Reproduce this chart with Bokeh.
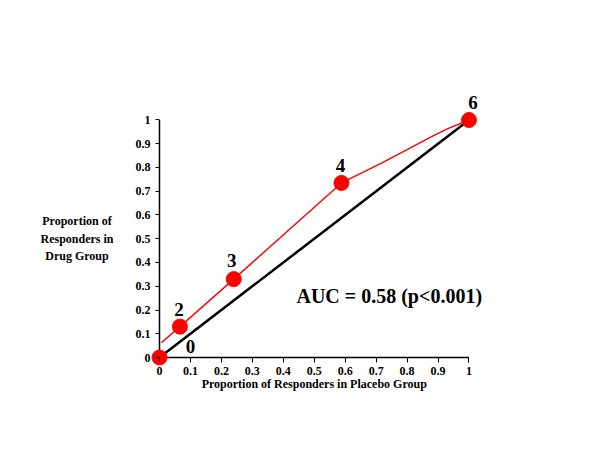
from bokeh.plotting import figure
from bokeh.models import Range1d, FixedTicker, ColumnDataSource, Label
from bokeh.core.properties import value
from bokeh.embed import file_html
from bokeh.resources import INLINE

# ---- data ----
pt_x = [0.0, 0.066, 0.24, 0.588, 1.0]
pt_y = [0.0, 0.13, 0.33, 0.735, 1.0]
pt_labels = ["0", "2", "3", "4", "6"]

curve_x = [0.006, 0.066, 0.24, 0.588, 0.714, 0.80, 0.876, 0.93, 1.0]
curve_y = [0.062, 0.13, 0.33, 0.735, 0.816, 0.875, 0.928, 0.963, 1.0]

ref_x = [0.0, 1.0]
ref_y = [0.0, 1.0]

ticks = [0, 0.1, 0.2, 0.3, 0.4, 0.5, 0.6, 0.7, 0.8, 0.9, 1]
tick_labels = ["0", "0.1", "0.2", "0.3", "0.4", "0.5", "0.6", "0.7", "0.8", "0.9", "1"]

x_title = "Proportion of Responders in Placebo Group"
y_title = "Proportion of\nResponders in\nDrug Group"
auc_text = "AUC = 0.58 (p<0.001)"

# label offsets in screen pixels
lab_dx = [31, -1, -2, -1, 4]
lab_dy = [-11, -17, -19, -17, -17]

FONT = "Liberation Serif"

p = figure(width=584, height=434,
           x_range=Range1d(-0.4168, 1.3409), y_range=Range1d(-0.2063, 1.2926),
           min_border_left=30, min_border_right=10,
           min_border_top=50, min_border_bottom=28,
           output_backend="svg", toolbar_location=None, tools="")
p.outline_line_color = None
p.xgrid.visible = False
p.ygrid.visible = False
p.background_fill_color = "white"
p.border_fill_color = "white"

overrides = {t: l for t, l in zip(ticks, tick_labels)}
for ax in (p.xaxis[0], p.yaxis[0]):
    ax.fixed_location = 0
    ax.ticker = FixedTicker(ticks=ticks, minor_ticks=[])
    ax.major_label_overrides = overrides
    ax.axis_line_color = None
    ax.major_tick_line_color = "black"
    ax.major_tick_line_width = 1
    ax.major_tick_in = 0
    ax.minor_tick_line_color = None
    ax.major_label_text_font = FONT
    ax.major_label_text_font_style = "bold"
    ax.major_label_text_font_size = "12px"
    ax.major_label_text_color = "black"

p.xaxis.major_tick_out = 5
p.xaxis.major_label_standoff = 4
p.yaxis.major_tick_out = 4
p.yaxis.major_label_standoff = 5

# axis lines from 0 to 1
p.line(x=[ticks[0], ticks[-1]], y=[ticks[0], ticks[0]], line_color="black", line_width=1.5)
p.line(x=[ticks[0], ticks[0]], y=[ticks[0], ticks[-1]], line_color="black", line_width=1.5)

# diagonal reference
p.line(x=ref_x, y=ref_y, line_color="black", line_width=2.5)

# red curve
p.line(x=curve_x, y=curve_y, line_color="#ff0000", line_width=1.4)

src = ColumnDataSource(dict(x=pt_x, y=pt_y, t=pt_labels, dx=lab_dx, dy=lab_dy))
p.scatter(x="x", y="y", source=src, size=15, fill_color="#ff0000", line_color="#ff0000")

p.text(x="x", y="y", text="t", x_offset="dx", y_offset="dy", source=src,
       text_font=value(FONT), text_font_style="bold", text_font_size="19px",
       text_align="center", text_baseline="middle", text_color="black")

p.add_layout(Label(x=-0.2666, y=0.5, text=y_title, text_font=FONT, text_font_style="bold",
                   text_font_size="12px", text_align="center", text_baseline="middle",
                   text_line_height=1.25, text_color="black"))

p.add_layout(Label(x=0.5, y=-0.1095, text=x_title, text_font=FONT, text_font_style="bold",
                   text_font_size="12px", text_align="center", text_baseline="middle",
                   text_color="black"))

p.add_layout(Label(x=0.4426, y=0.261, text=auc_text, text_font=FONT, text_font_style="bold",
                   text_font_size="20px", text_align="left", text_baseline="middle",
                   text_color="black"))

open("out.html", "w").write(file_html(p, INLINE))
